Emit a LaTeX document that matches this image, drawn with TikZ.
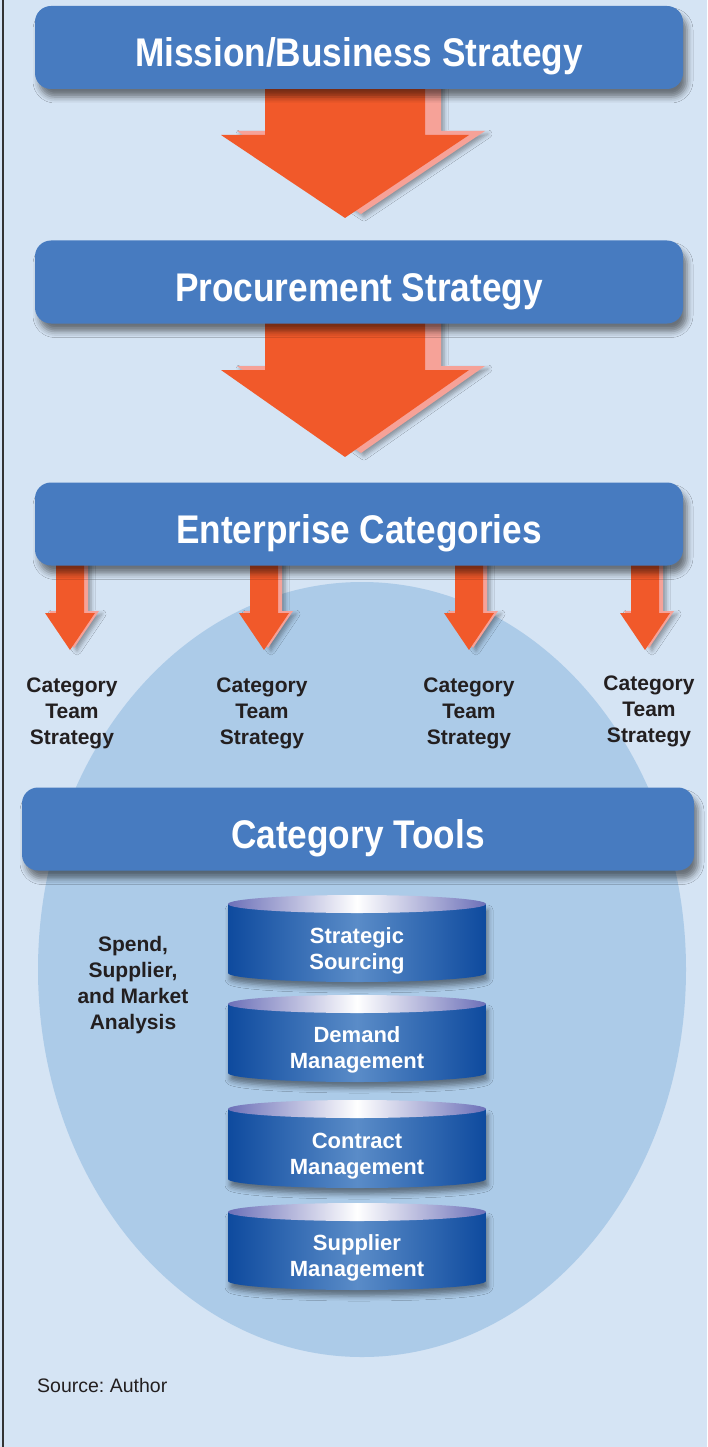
\documentclass[tikz,border=0pt]{standalone}
\usepackage{fontspec}
\setmainfont{Liberation Sans}
\newfontfamily\condfont[FakeStretch=0.88]{Liberation Sans}
\usetikzlibrary{shadows.blur,calc}
\definecolor{bgcol}{RGB}{213,228,244}
\definecolor{ellcol}{RGB}{172,203,232}
\definecolor{boxblue}{RGB}{71,123,192}
\definecolor{arrorange}{RGB}{241,89,42}
\definecolor{arrbevel}{RGB}{246,162,152}
\definecolor{cyldark}{RGB}{14,74,158}
\definecolor{cylmid}{RGB}{90,140,200}
\definecolor{cyltop}{RGB}{108,112,184}
\definecolor{txtdark}{RGB}{35,31,32}
\frenchspacing
\tikzset{
  titlebox/.style={fill=boxblue, rounded corners=16pt, inner sep=0pt,
    minimum width=648pt, minimum height=83pt, text=white,
    font=\condfont\bfseries\fontsize{40}{44}\selectfont,
    text height=39pt, text depth=0pt,
    blur shadow={shadow xshift=4pt, shadow yshift=-8pt, shadow blur radius=6pt, shadow opacity=50}},
  lbl/.style={align=center, text=txtdark, inner sep=0pt,
    font=\bfseries\fontsize{21}{26}\selectfont},
  cyltext/.style={align=center, text=white, inner sep=0pt,
    font=\bfseries\fontsize{22}{26}\selectfont},
  arrfront/.style={fill=arrorange},
  arrback/.style={fill=arrbevel, blur shadow={shadow xshift=3pt, shadow yshift=-3pt, shadow blur radius=4pt, shadow opacity=35}},
  cylbody/.style={left color=cyldark, right color=cyldark, middle color=cylmid,
    blur shadow={shadow xshift=2pt, shadow yshift=-6pt, shadow blur radius=5pt, shadow opacity=45}},
  cyltopst/.style={left color=cyltop, right color=cyltop, middle color=white},
}
% #1 cx, #2 top y, #3 head y, #4 tip y, #5 shaft half width, #6 head half width, #7 dx, #8 dy
\newcommand\mkarrow[8]{%
  \path[arrback] ({#1-#5+#7},{#2}) -- ({#1-#5+#7},{#3+#8}) -- ({#1-#6+#7},{#3+#8}) --
    ({#1+#7},{#4+#8}) -- ({#1+#6+#7},{#3+#8}) -- ({#1+#5+#7},{#3+#8}) -- ({#1+#5+#7},{#2}) -- cycle;
  \path[arrfront] ({#1-#5},{#2}) -- ({#1-#5},{#3}) -- ({#1-#6},{#3}) --
    ({#1},{#4}) -- ({#1+#6},{#3}) -- ({#1+#5},{#3}) -- ({#1+#5},{#2}) -- cycle;
}
% #1 top ellipse centre y, #2 bottom ellipse centre y
\newcommand\mkcyl[2]{%
  \path[cylbody] (228,#1) -- (228,#2) arc[start angle=180, end angle=0, x radius=129, y radius=9] -- (486,#1) -- cycle;
  \path[cyltopst] (357,#1) ellipse [x radius=129, y radius=9];
}
\begin{document}
\begin{tikzpicture}[x=1pt,y=-1pt]
\useasboundingbox (0,0) rectangle (707,1447);
\fill[bgcol] (0,0) rectangle (707,1447);
\draw[line width=1.3pt, black!80] (3,0) -- (3,1447);
% large ellipse
\fill[ellcol] (362,969.5) ellipse [x radius=324, y radius=387.5];

% arrow tips (connector ends)
\coordinate (tipA) at (345,218);
\coordinate (tipB) at (345,457);
\mkarrow{345}{60}{135}{218}{80}{124}{16}{-4}
\mkarrow{345}{290}{370}{457}{80}{124}{16}{-4}
\coordinate (tipc1) at (70,650);
\coordinate (tipc2) at (264,650);
\coordinate (tipc3) at (469,650);
\coordinate (tipc4) at (645,650);
\mkarrow{70}{530}{613}{650}{14}{25}{4}{-2}
\mkarrow{264}{530}{613}{650}{14}{25}{4}{-2}
\mkarrow{469}{530}{613}{650}{14}{25}{4}{-2}
\mkarrow{645}{530}{613}{650}{14}{25}{4}{-2}

% title boxes
\node[titlebox] (mbs) at (359,47.5) {Mission/Business Strategy};
\node[titlebox] (proc) at (359,282) {Procurement Strategy};
\node[titlebox] (ent) at (359,524) {Enterprise Categories};
\node[titlebox, minimum width=672pt] (tools) at (358,829) {Category Tools};

% category team strategy labels
\node[lbl] (cts1) at (72,713) {Category\\Team\\Strategy};
\node[lbl] (cts2) at (262,713) {Category\\Team\\Strategy};
\node[lbl] (cts3) at (469,713) {Category\\Team\\Strategy};
\node[lbl] (cts4) at (649,711) {Category\\Team\\Strategy};

% spend analysis
\node[lbl] (spend) at (133,985) {Spend,\\Supplier,\\and Market\\Analysis};

% cylinders
\mkcyl{904}{973}
\node[cyltext] (c1) at (357,951) {Strategic\\Sourcing};
\mkcyl{1004}{1073}
\node[cyltext] (c2) at (357,1050) {Demand\\Management};
\mkcyl{1109}{1179}
\node[cyltext] (c3) at (357,1156) {Contract\\Management};
\mkcyl{1212}{1281}
\node[cyltext] (c4) at (357,1258) {Supplier\\Management};

% source
\node[anchor=base west, inner sep=0pt, text=txtdark, font=\fontsize{19.5}{22}\selectfont] (src) at (37,1392) {Source: Author};
\end{tikzpicture}
\end{document}
